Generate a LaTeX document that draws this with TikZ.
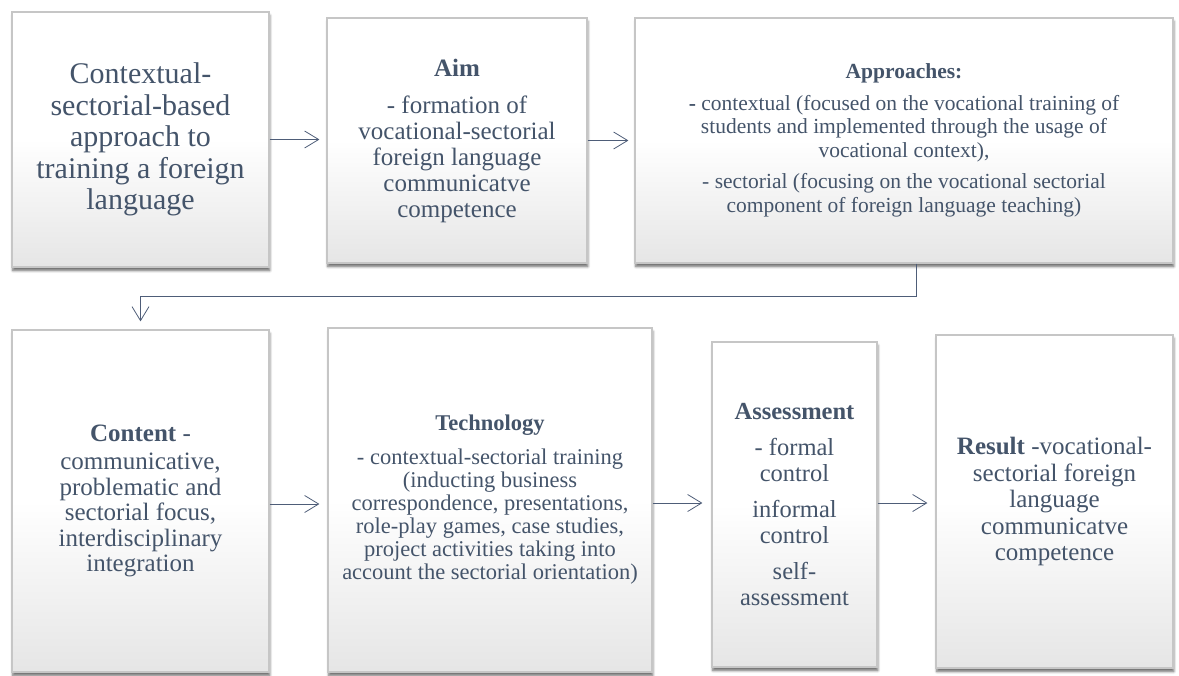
\documentclass[tikz,border=0pt]{standalone}
\usepackage{fontspec}
\setmainfont{Liberation Serif}
\usetikzlibrary{arrows.meta,shadows.blur}
\definecolor{txt}{HTML}{44546A}
\definecolor{lnc}{HTML}{4E5D78}
\tikzset{
  box/.style={rectangle, draw=gray!45, line width=1.2bp, top color=white, bottom color=black!10, middle color=white,
    inner sep=0pt, align=center, text=txt,
    blur shadow={shadow xshift=0.8bp, shadow yshift=-3.5bp, shadow blur steps=6, shadow blur radius=2.5bp, shadow opacity=60}},
  conn/.style={draw=lnc, line width=0.8bp, -{Straight Barb[length=14bp,width=17bp,line width=0.8bp]}}
}
\begin{document}
\begin{tikzpicture}[x=1bp,y=-1bp]
\useasboundingbox (0,0) rectangle (1179,676);
\node[box, minimum width=257bp, minimum height=255bp, font=\fontsize{30bp}{31.5bp}\selectfont] (b1) at (140.5,139.5)
  {Contextual-\\sectorial-based\\approach to\\training a foreign\\language};
\node[box, minimum width=260bp, minimum height=245bp, font=\fontsize{25bp}{26bp}\selectfont] (b2) at (457,140.5)
  {\textbf{Aim}\\[11bp]- formation of\\vocational-sectorial\\foreign language\\communicatve\\competence};
\node[box, minimum width=538bp, minimum height=245bp, font=\fontsize{21.5bp}{23.5bp}\selectfont] (b3) at (904,140.5)
  {\textbf{Approaches:}\\[8bp]\textbf{-} contextual (focused on the vocational training of\\students and implemented through the usage of\\vocational context),\\[8bp]- sectorial (focusing on the vocational sectorial\\component of foreign language teaching)};
\node[box, minimum width=257bp, minimum height=342bp, font=\fontsize{25bp}{25.5bp}\selectfont] (b4) at (140.5,501)
  {\textbf{Content} -\\[3bp]communicative,\\problematic and\\sectorial focus,\\interdisciplinary\\integration};
\node[box, minimum width=324bp, minimum height=344bp, font=\fontsize{22.5bp}{23bp}\selectfont] (b5) at (490,500)
  {\textbf{Technology}\\[11bp]- contextual-sectorial training\\(inducting business\\correspondence, presentations,\\role-play games, case studies,\\project activities taking into\\account the sectorial orientation)};
\node[box, minimum width=165bp, minimum height=325bp, font=\fontsize{24.5bp}{25.5bp}\selectfont] (b6) at (794.5,504.5)
  {\textbf{Assessment}\\[11bp]- formal\\control\\[11bp]informal\\control\\[11bp]self-\\assessment};
\node[box, minimum width=237bp, minimum height=333bp, font=\fontsize{25bp}{26.5bp}\selectfont] (b7) at (1054.5,501.5)
  {\textbf{Result} -vocational-\\sectorial foreign\\language\\communicatve\\competence};
\coordinate (c1) at (916,296);
\coordinate (c2) at (140.5,296);
\draw[conn, shorten >=7bp] (b1.east) -- (b1.east -| b2.west);
\draw[conn, shorten >=6bp] (b2.east) -- (b2.east -| b3.west);
\draw[conn, shorten >=8bp] (b3.south -| c1) -- (c1) -- (c2) -- (b4.north);
\draw[conn, shorten >=8bp] (b4.east |- 0,504) -- (b5.west |- 0,504);
\draw[conn, shorten >=9bp] (b5.east |- 0,503) -- (b6.west |- 0,503);
\draw[conn, shorten >=8bp] (b6.east |- 0,503) -- (b7.west |- 0,503);
\end{tikzpicture}
\end{document}
